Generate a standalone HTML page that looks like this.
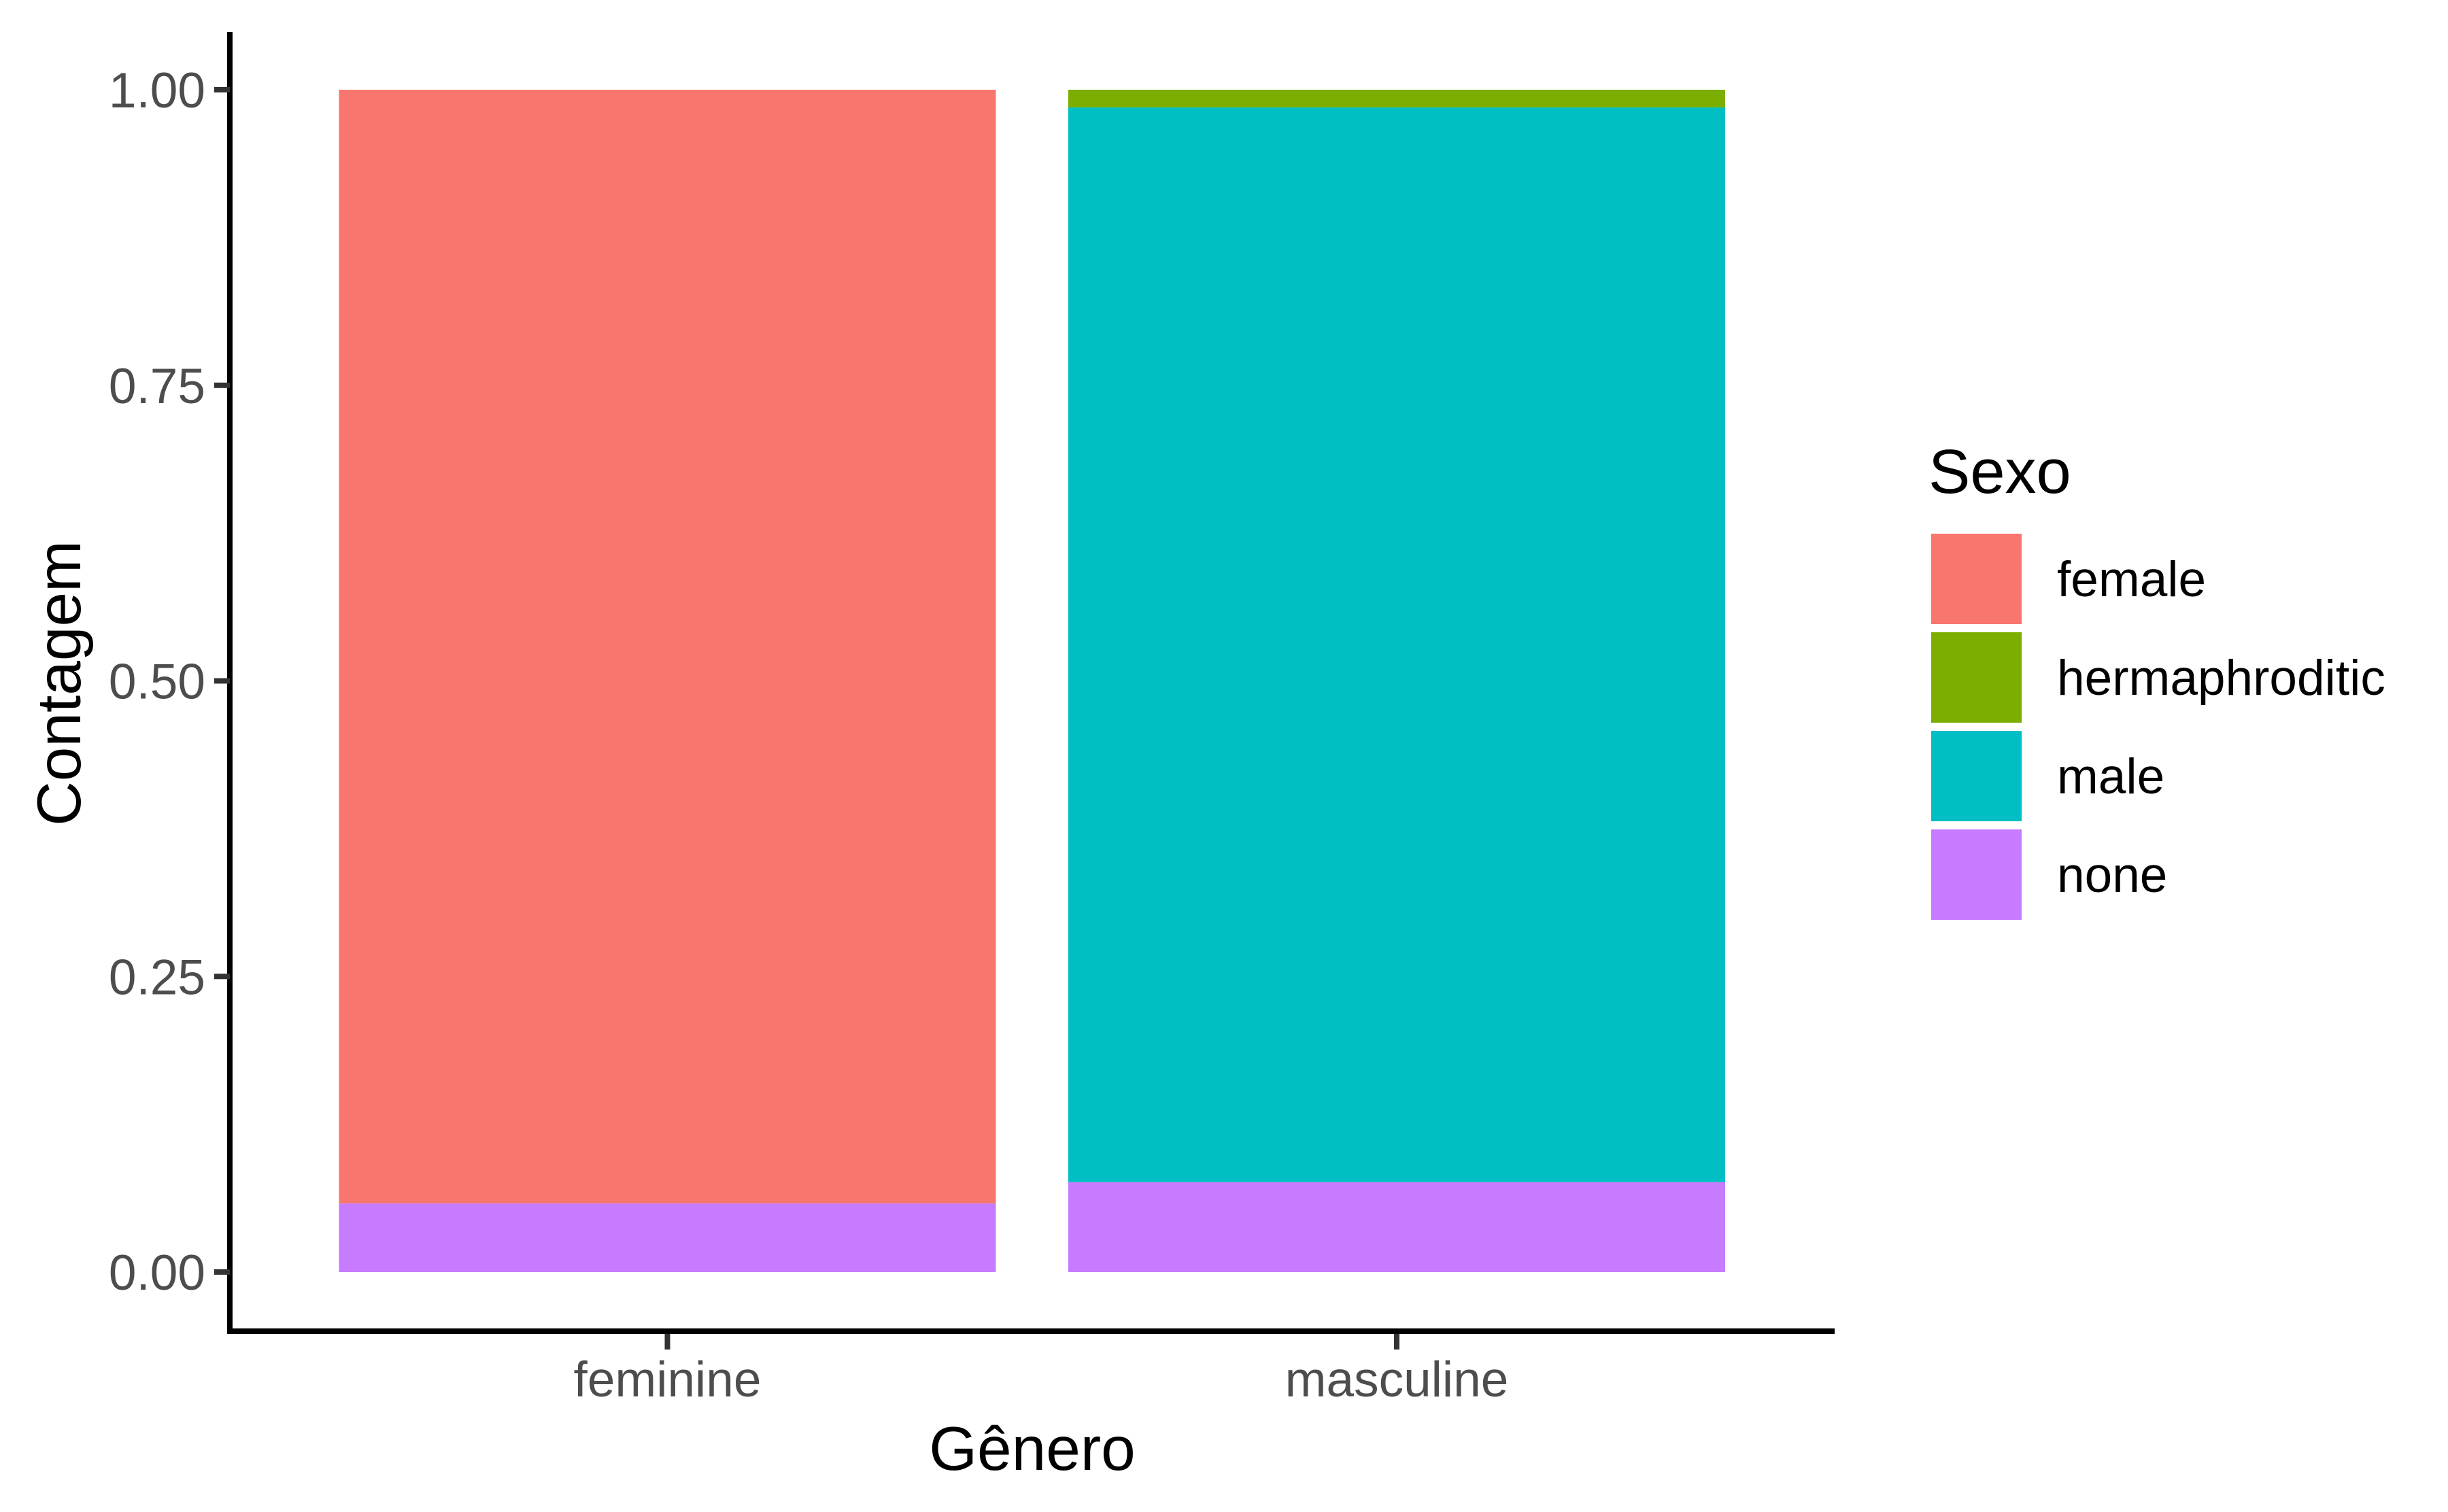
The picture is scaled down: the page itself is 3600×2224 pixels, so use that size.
<!DOCTYPE html>
<html><head><meta charset="utf-8"><style>
html,body{margin:0;padding:0;background:#fff;}
svg{display:block;font-family:"Liberation Sans",Arial,sans-serif;}
</style></head><body>
<svg id="chart" width="3600" height="2224" viewBox="0 0 3600 2224">
<g id="bars"></g>
<g id="axes"></g>
<g id="legend"></g>
</svg>
<script>
const categories = ["feminine", "masculine"];
const seriesNames = ["female", "hermaphroditic", "male", "none"];
const noneValues = [0.058, 0.076];
const maleValues = [0, 0.909];
const hermValues = [0, 0.015];
const femaleValues = [0.942, 0];
const yTickValues = [0, 0.25, 0.5, 0.75, 1];
const yTickLabels = ["0.00", "0.25", "0.50", "0.75", "1.00"];

const colors = {female:"#F8766D", hermaphroditic:"#7CAE00", male:"#00BFC4", none:"#C77CFF"};
const NS = "http://www.w3.org/2000/svg";
const y0 = 1871, y1 = 132;
function yScale(v){ return y0 - v*(y0-y1); }
const barW = 966;
function xCenter(i){ return 981.5 + i*(2054-981.5); }
function mk(tag, attrs, parent){ const e=document.createElementNS(NS,tag); for(const k in attrs) e.setAttribute(k,attrs[k]); parent.appendChild(e); return e; }

const bars = document.getElementById('bars');
const stack = [["none", noneValues], ["male", maleValues], ["hermaphroditic", hermValues], ["female", femaleValues]];
categories.forEach((c, i) => {
  let cum = 0;
  stack.forEach(([name, vals]) => {
    const v = vals[i];
    if (v <= 0) return;
    const r = mk('rect', {x: xCenter(i)-barW/2, y: yScale(cum+v), width: barW, height: yScale(cum)-yScale(cum+v), fill: colors[name]}, bars);
    
    
    cum += v;
  });
});

const axes = document.getElementById('axes');
const yl = mk('line', {x1:338, y1:47, x2:338, y2:1962, stroke:"#000", "stroke-width":8}, axes);


const xl = mk('line', {x1:334, y1:1958, x2:2698, y2:1958, stroke:"#000", "stroke-width":8}, axes);


yTickValues.forEach((v, k) => {
  const y = yScale(v);
  const t = mk('line', {x1:315, y1:y, x2:338, y2:y, stroke:"#333", "stroke-width":8}, axes);
  
  
  const tx = mk('text', {x:302, y:y+26, "text-anchor":"end", "font-size":73, fill:"#4D4D4D"}, axes);
  tx.textContent = yTickLabels[k];
  
  
});
categories.forEach((c, i) => {
  const x = xCenter(i);
  const t = mk('line', {x1:x, y1:1962, x2:x, y2:1985, stroke:"#333", "stroke-width":8}, axes);
  
  
  const tx = mk('text', {x:x, y:2054, "text-anchor":"middle", "font-size":73, fill:"#4D4D4D"}, axes);
  tx.textContent = c;
  
  
});
const xt = mk('text', {x:1518, y:2162, "text-anchor":"middle", "font-size":91, fill:"#000"}, axes);
xt.textContent = "Gênero";


const yt = mk('text', {x:0, y:0, "text-anchor":"middle", "font-size":91, fill:"#000", transform:"translate(118,1005) rotate(-90)"}, axes);
yt.textContent = "Contagem";



const legend = document.getElementById('legend');
const lt = mk('text', {x:2836, y:725, "font-size":92, fill:"#000"}, legend);
lt.textContent = "Sexo";


seriesNames.forEach((s, k) => {
  const top = 785 + k*145;
  const r = mk('rect', {x:2840, y:top, width:133, height:133, fill:colors[s]}, legend);
  
  
  const tx = mk('text', {x:3025, y:top+66+26, "font-size":73, fill:"#000"}, legend);
  tx.textContent = s;
  
  
});
</script>
</body></html>
